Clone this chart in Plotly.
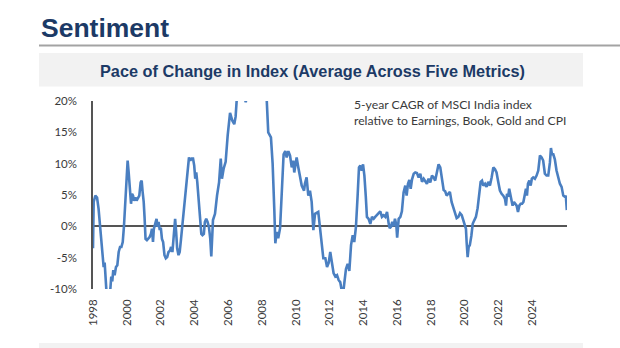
import plotly.graph_objects as go

# Monthly-ish readings of the five-metric average (5-year CAGR, %)
years = [
    1998.00, 1998.04, 1998.14, 1998.24, 1998.33, 1998.43, 1998.49, 1998.57, 1998.63, 1998.69,
    1998.75, 1998.81, 1998.93, 1999.03, 1999.08, 1999.14, 1999.20, 1999.28, 1999.36, 1999.44,
    1999.52, 1999.60, 1999.68, 1999.76, 1999.83, 1999.91, 1999.99, 2000.05, 2000.11, 2000.19,
    2000.25, 2000.31, 2000.37, 2000.43, 2000.51, 2000.58, 2000.66, 2000.74, 2000.82, 2000.88,
    2000.94, 2001.00, 2001.05, 2001.11, 2001.19, 2001.27, 2001.35, 2001.43, 2001.49, 2001.55,
    2001.60, 2001.68, 2001.76, 2001.82, 2001.88, 2001.94, 2002.02, 2002.08, 2002.15, 2002.23,
    2002.31, 2002.39, 2002.47, 2002.55, 2002.62, 2002.70, 2002.78, 2002.86, 2002.92, 2002.98,
    2003.06, 2003.13, 2003.21, 2003.29, 2003.37, 2003.45, 2003.52, 2003.60, 2003.68, 2003.76,
    2003.84, 2003.92, 2003.99, 2004.05, 2004.11, 2004.17, 2004.23, 2004.29, 2004.35, 2004.41,
    2004.48, 2004.56, 2004.62, 2004.70, 2004.78, 2004.86, 2004.94, 2005.00, 2005.10, 2005.22,
    2005.34, 2005.46, 2005.56, 2005.63, 2005.73, 2005.85, 2005.97, 2006.11, 2006.24, 2006.36,
    2006.44, 2006.52, 2006.70, 2006.90, 2007.04, 2007.25, 2007.55, 2007.85, 2008.10, 2008.28,
    2008.37, 2008.53, 2008.63, 2008.73, 2008.79, 2008.87, 2008.96, 2009.07, 2009.17, 2009.28,
    2009.38, 2009.46, 2009.56, 2009.66, 2009.76, 2009.85, 2009.91, 2010.05, 2010.15, 2010.25,
    2010.35, 2010.49, 2010.54, 2010.64, 2010.74, 2010.84, 2010.94, 2011.04, 2011.14, 2011.33,
    2011.43, 2011.63, 2011.75, 2011.85, 2011.95, 2012.04, 2012.14, 2012.24, 2012.34, 2012.44,
    2012.54, 2012.63, 2012.73, 2012.79, 2012.87, 2012.97, 2013.07, 2013.17, 2013.27, 2013.37,
    2013.46, 2013.56, 2013.66, 2013.74, 2013.82, 2013.90, 2013.98, 2014.06, 2014.14, 2014.21,
    2014.31, 2014.41, 2014.51, 2014.61, 2014.70, 2014.80, 2014.90, 2015.00, 2015.10, 2015.20,
    2015.30, 2015.40, 2015.50, 2015.56, 2015.63, 2015.71, 2015.79, 2015.87, 2015.95, 2016.00,
    2016.09, 2016.19, 2016.28, 2016.38, 2016.48, 2016.56, 2016.64, 2016.72, 2016.80, 2016.88,
    2016.98, 2017.07, 2017.17, 2017.27, 2017.37, 2017.47, 2017.57, 2017.66, 2017.76, 2017.86,
    2017.96, 2018.06, 2018.16, 2018.25, 2018.35, 2018.45, 2018.55, 2018.65, 2018.75, 2018.84,
    2018.93, 2019.02, 2019.12, 2019.22, 2019.32, 2019.42, 2019.52, 2019.62, 2019.72, 2019.82,
    2019.91, 2020.01, 2020.07, 2020.11, 2020.17, 2020.23, 2020.30, 2020.39, 2020.47, 2020.57,
    2020.66, 2020.76, 2020.86, 2020.94, 2021.02, 2021.10, 2021.20, 2021.29, 2021.39, 2021.49,
    2021.59, 2021.69, 2021.79, 2021.88, 2021.98, 2022.08, 2022.18, 2022.28, 2022.38, 2022.44,
    2022.50, 2022.57, 2022.63, 2022.71, 2022.77, 2022.83, 2022.91, 2022.99, 2023.07, 2023.15,
    2023.23, 2023.31, 2023.39, 2023.47, 2023.56, 2023.62, 2023.68, 2023.74, 2023.82, 2023.90,
    2023.97, 2024.05, 2024.15, 2024.25, 2024.35, 2024.45, 2024.55, 2024.64, 2024.74, 2024.84,
    2024.94, 2025.04, 2025.10, 2025.16, 2025.24, 2025.33, 2025.43, 2025.53, 2025.63, 2025.73,
    2025.83, 2025.93, 2025.98, 2026.04,
]

pace = [
    -3.5, 3.9, 4.9, 4.6, 2.8, -0.1, -2.5, -5.1, -6.5, -5.8,
    -8.8, -11.0, -11.0, -9.9, -8.0, -8.8, -7.0, -7.8, -6.5, -6.2,
    -4.1, -3.3, -3.3, -2.5, -0.1, 3.2, 7.6, 10.5, 8.6, 6.0,
    3.6, 5.2, 4.9, 4.1, 4.6, 4.1, 4.4, 4.9, 7.0, 7.3,
    5.4, 3.9, 1.5, -2.0, -2.2, -2.0, -1.7, -1.2, -0.4, -2.5,
    -0.4, 0.4, 1.2, -0.1, 0.7, -0.4, -0.4, -2.0, -2.5, -4.6,
    -5.1, -4.9, -4.1, -3.9, -3.3, -4.1, -1.4, 1.2, -0.9, -3.5,
    -4.6, -4.1, -2.0, 0.2, 3.2, 5.7, 7.6, 9.7, 11.0, 10.5,
    10.8, 10.8, 9.7, 7.6, 8.6, 7.1, 4.9, 2.3, -0.1, -1.2,
    -1.4, -1.2, 0.7, 1.2, 0.7, -0.1, -2.0, -4.8, 1.0, 2.0,
    4.9, 7.0, 10.8, 7.6, 9.2, 10.3, 14.5, 18.1, 16.9, 16.3,
    17.5, 20.8, 23.5, 21.5, 19.8, 24.0, 28.5, 29.0, 25.0, 20.2,
    15.0, 14.2, 10.0, 2.6, -2.7, -0.9, -1.9, -0.3, 4.9, 11.5,
    12.0, 11.0, 12.0, 11.3, 9.4, 10.5, 8.6, 11.0, 9.4, 7.8,
    6.5, 5.7, 6.8, 7.8, 4.9, 5.7, 3.9, -0.6, 2.0, 2.3,
    -0.4, -5.1, -5.1, -6.5, -5.8, -4.1, -5.8, -7.5, -8.0, -7.8,
    -8.6, -8.9, -10.4, -11.0, -9.1, -6.8, -6.0, -7.1, -3.0, -1.4,
    -2.5, -0.1, 4.9, 9.4, 9.7, 8.9, 9.9, 8.1, 4.9, 1.5,
    1.2, 0.4, 1.5, 1.2, 1.5, 1.75, 2.0, 2.4, 1.5, 1.75,
    1.5, 2.3, 0.4, -0.3, -0.1, 0.7, 0.0, 1.2, 0.2, -1.8,
    1.2, 1.5, 2.4, 5.4, 6.5, 4.9, 6.8, 7.4, 6.0, 7.5,
    8.4, 8.6, 8.5, 7.8, 8.4, 7.1, 7.6, 7.1, 6.8, 7.6,
    7.0, 8.1, 7.8, 7.3, 8.9, 9.9, 9.4, 7.1, 5.8, 5.6,
    4.9, 5.2, 5.5, 3.9, 2.9, 2.1, 1.3, 1.5, 2.1, 1.8,
    1.0, -0.1, -0.4, -2.5, -4.9, -3.3, -3.0, -1.5, 0.4, 1.0,
    1.5, 2.9, 4.9, 7.1, 7.3, 6.5, 6.8, 6.3, 7.1, 6.5,
    7.8, 9.4, 9.1, 8.6, 7.1, 5.7, 5.2, 4.9, 4.4, 3.3,
    5.2, 4.7, 6.0, 4.9, 4.1, 3.3, 3.9, 3.6, 3.3, 2.3,
    3.3, 3.6, 3.6, 3.9, 5.2, 6.0, 4.9, 6.8, 7.3, 6.5,
    7.6, 7.8, 7.6, 8.1, 8.9, 11.3, 11.0, 10.5, 8.4, 8.1,
    8.1, 10.2, 12.5, 11.5, 11.5, 10.7, 8.9, 7.6, 6.8, 6.3,
    4.9, 4.7, 4.9, 2.6,
]

tick_years = list(range(1998, 2025, 2))
tick_labels = [str(y) for y in tick_years]
y_ticks = [-10, -5, 0, 5, 10, 15, 20]
y_tick_labels = [f"{v}%" for v in y_ticks]

W, H = 620, 348
L, R, T, B = 93, 53, 101, 59
PW, PH = W - L - R, H - T - B


def fx(px):
    return (px - L) / PW


def fy(py):
    return (H - B - py) / PH


NAVY = "#1c3a66"
TEXT = "#3a3a3a"

fig = go.Figure()
fig.add_trace(go.Scatter(
    x=years, y=pace, mode="lines",
    line=dict(color="#4a7fc1", width=2.6),
    hoverinfo="skip", showlegend=False,
))

fig.update_layout(
    width=W, height=H,
    margin=dict(l=L, r=R, t=T, b=B, pad=0),
    paper_bgcolor="white", plot_bgcolor="white",
    xaxis=dict(
        range=[1998.0, 2026.05], tickmode="array",
        tickvals=tick_years, ticktext=tick_labels, tickangle=-90,
        showgrid=False, zeroline=False, showline=False, ticks="",
        ticklabelstandoff=7,
        tickfont=dict(family="Lato", size=11.5, color=TEXT),
    ),
    yaxis=dict(
        range=[-10, 20], tickmode="array",
        tickvals=y_ticks, ticktext=y_tick_labels,
        showgrid=False, zeroline=True, zerolinecolor="#555555", zerolinewidth=1.5,
        showline=True, linecolor="#555555", linewidth=1.5, ticks="",
        ticklabelstandoff=12,
        tickfont=dict(family="Lato", size=11.5, color=TEXT),
    ),
    shapes=[
        # rule under the section heading
        dict(type="line", xref="paper", yref="paper",
             x0=fx(39), x1=fx(621), y0=fy(45.5), y1=fy(45.5),
             line=dict(color="#a3a3a3", width=2)),
        # title band
        dict(type="rect", xref="paper", yref="paper", layer="below",
             x0=fx(39), x1=fx(583), y0=fy(86.5), y1=fy(53),
             fillcolor="#f2f2f2", line=dict(width=0)),
        # footer band
        dict(type="rect", xref="paper", yref="paper", layer="below",
             x0=fx(39), x1=fx(583), y0=fy(349), y1=fy(343),
             fillcolor="#f2f2f2", line=dict(width=0)),
    ],
    annotations=[
        dict(text="<b>Sentiment</b>", xref="paper", yref="paper",
             x=fx(39), y=fy(28.5), xanchor="left", yanchor="middle", showarrow=False,
             font=dict(family="Liberation Sans", size=26.5, color=NAVY)),
        dict(text="<b>Pace of Change in Index (Average Across Five Metrics)</b>",
             xref="paper", yref="paper", x=fx(312), y=fy(71),
             xanchor="center", yanchor="middle", showarrow=False,
             font=dict(family="Liberation Sans", size=16.3, color=NAVY)),
        dict(text="5-year CAGR of MSCI India index", xref="paper", yref="paper",
             x=fx(352), y=fy(104), xanchor="left", yanchor="middle", showarrow=False,
             font=dict(family="Lato", size=12.2, color=TEXT)),
        dict(text="relative to Earnings, Book, Gold and CPI", xref="paper", yref="paper",
             x=fx(352), y=fy(120), xanchor="left", yanchor="middle", showarrow=False,
             font=dict(family="Lato", size=12.2, color=TEXT)),
    ],
)

fig.write_html("out.html")
